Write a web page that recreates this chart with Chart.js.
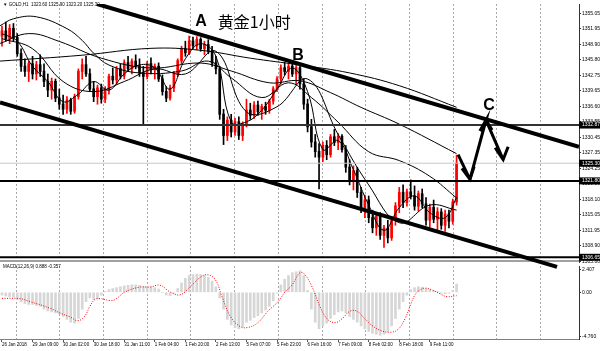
<!DOCTYPE html>
<html>
<head>
<meta charset="utf-8">
<script src="https://cdn.jsdelivr.net/npm/chart.js@4.4.1/dist/chart.umd.min.js"></script>
<style>
  html, body { margin: 0; padding: 0; background: #fff; width: 600px; height: 351px; overflow: hidden; }
  #wrap { position: relative; width: 600px; height: 351px; }
  #main { position: absolute; left: 0; top: 0; z-index: 2; }
  #macd { position: absolute; left: 0; top: 262px; z-index: 1; }
</style>
</head>
<body>
<div id="wrap">
  <canvas id="macd" width="600" height="89"></canvas>
  <canvas id="main" width="600" height="272"></canvas>
</div>
<script>
// GOLD H1, shown as 2-hour candles, index 0 = 26 Jan 2018
const opens = [1350.5,1351.5,1350.0,1352.0,1350.2,1347.0,1344.5,1343.5,1345.0,1343.0,1344.8,1343.5,1341.5,1339.8,1341.5,1338.2,1337.0,1336.0,1337.8,1335.6,
  1338.5,1343.5,1344.8,1343.0,1340.0,1338.5,1340.2,1338.0,1339.8,1342.5,1341.8,1344.0,1342.6,1345.2,1344.0,1345.5,1344.6,1343.2,1342.5,1345.0,
  1343.8,1344.5,1342.0,1339.5,1338.2,1340.2,1343.0,1345.6,1348.0,1347.2,1349.5,1348.6,1349.8,1348.0,1348.8,1347.5,1345.2,1344.0,1335.0,1330.8,
  1333.8,1331.5,1333.5,1330.8,1333.0,1335.8,1334.8,1336.8,1335.5,1336.5,1335.8,1337.6,1340.0,1342.0,1344.2,1343.5,1344.5,1343.0,1344.2,1341.0,
  1337.0,1332.5,1329.5,1327.6,1326.5,1328.8,1327.0,1330.5,1329.4,1330.6,1328.0,1324.5,1322.0,1323.8,1319.5,1316.5,1318.0,1314.5,1312.5,1314.8,
  1311.0,1312.4,1310.5,1314.0,1316.8,1319.5,1317.5,1319.6,1318.8,1316.8,1319.2,1317.2,1314.0,1316.5,1314.2,1315.6,1313.0,1315.2,1313.8,1317.6];
const highs = [1352.5,1353.3,1352.8,1353.0,1351.0,1348.0,1346.0,1345.5,1346.5,1345.5,1346.8,1345.0,1343.0,1342.2,1342.0,1340.0,1338.8,1338.5,1338.2,1339.0,
  1344.0,1346.0,1346.5,1344.0,1341.5,1340.8,1341.0,1340.5,1343.0,1344.2,1344.5,1345.0,1345.8,1346.5,1346.0,1346.8,1346.0,1344.5,1345.5,1346.2,
  1345.0,1345.2,1342.8,1340.5,1340.8,1343.5,1346.0,1348.5,1349.5,1350.5,1350.3,1350.4,1350.2,1349.5,1349.8,1348.5,1346.5,1344.5,1336.0,1334.5,
  1335.0,1334.2,1334.5,1333.5,1338.0,1337.2,1337.5,1337.6,1337.0,1337.4,1338.0,1340.5,1342.5,1344.8,1345.3,1345.0,1345.2,1344.8,1345.0,1342.0,
  1338.0,1334.0,1331.0,1329.2,1329.5,1329.8,1331.0,1332.0,1331.2,1331.0,1328.8,1326.0,1324.8,1324.5,1320.5,1319.0,1318.8,1316.0,1315.5,1315.5,
  1313.0,1314.0,1314.5,1317.5,1320.5,1321.0,1320.2,1322.0,1320.8,1319.8,1320.2,1318.5,1317.2,1318.0,1316.5,1316.3,1316.0,1316.0,1318.2,1326.9];
const lows = [1348.5,1349.5,1349.0,1349.5,1346.5,1343.5,1342.5,1341.5,1342.0,1341.8,1342.5,1340.5,1338.5,1338.0,1337.5,1336.0,1335.0,1335.2,1335.0,1335.2,
  1338.0,1342.0,1342.5,1339.5,1337.5,1337.0,1337.2,1337.3,1339.0,1341.0,1341.0,1342.0,1342.0,1343.5,1343.0,1344.0,1342.5,1332.8,1342.0,1343.0,
  1342.0,1341.5,1338.8,1337.5,1337.8,1339.5,1342.5,1345.0,1346.5,1346.8,1348.0,1347.8,1347.5,1346.8,1347.0,1344.5,1343.0,1334.0,1329.0,1329.8,
  1330.5,1330.8,1330.0,1329.8,1332.5,1334.0,1334.2,1334.8,1334.0,1335.0,1335.2,1337.0,1339.5,1341.0,1342.8,1342.0,1342.5,1341.0,1340.0,1336.0,
  1331.5,1328.5,1326.5,1320.2,1325.6,1326.0,1326.5,1328.8,1328.0,1327.5,1323.5,1321.0,1320.0,1318.5,1315.5,1314.5,1313.5,1311.5,1311.0,1310.2,
  1308.6,1309.5,1310.0,1313.0,1315.5,1316.5,1316.8,1318.2,1316.0,1315.8,1316.5,1313.0,1312.6,1313.5,1312.0,1312.2,1311.8,1312.5,1313.2,1317.0];
const closes = [1351.5,1350.0,1352.0,1350.2,1347.0,1344.5,1343.5,1345.0,1343.0,1344.8,1343.5,1341.5,1339.8,1341.5,1338.2,1337.0,1336.0,1337.8,1335.6,1338.5,
  1343.5,1344.8,1343.0,1340.0,1338.5,1340.2,1338.0,1339.8,1342.5,1341.8,1344.0,1342.6,1345.2,1344.0,1345.5,1344.6,1343.2,1342.5,1345.0,1343.8,
  1344.5,1342.0,1339.5,1338.2,1340.2,1343.0,1345.6,1348.0,1347.2,1349.5,1348.6,1349.8,1348.0,1348.8,1347.5,1345.2,1344.0,1335.0,1330.8,1333.8,
  1331.5,1333.5,1330.8,1333.0,1335.8,1334.8,1336.8,1335.5,1336.5,1335.8,1337.6,1340.0,1342.0,1344.2,1343.5,1344.5,1343.0,1344.2,1341.0,1337.0,
  1332.5,1329.5,1327.6,1326.5,1328.8,1327.0,1330.5,1329.4,1330.6,1328.0,1324.5,1322.0,1323.8,1319.5,1316.5,1318.0,1314.5,1312.5,1314.8,1311.0,
  1312.4,1310.5,1314.0,1316.8,1319.5,1317.5,1319.6,1318.8,1316.8,1319.2,1317.2,1314.0,1316.5,1314.2,1315.6,1313.0,1315.2,1313.8,1317.6,1325.3];

// moving averages: [bar index, price]
const maFast = [[0,1351],[4,1349.5],[8,1344.5],[12,1341.5],[16,1337.5],[20,1339],[24,1341.5],[28,1339.8],[32,1343],[36,1344.8],[40,1344.2],
  [44,1340],[48,1346],[52,1349],[56,1346.5],[60,1333.5],[64,1333.5],[68,1335.8],[72,1340],[76,1344.2],[80,1339.5],[84,1328],[88,1329.8],
  [92,1324],[96,1317],[100,1312],[104,1316.5],[108,1318.8],[112,1315.5],[116,1314.5],[119,1318.5]];
const maMid = [[0,1350],[8,1348],[16,1341.5],[24,1339.5],[32,1341.5],[40,1344],[48,1343],[56,1347.5],[64,1335.5],[72,1336.5],[80,1342],
  [88,1331],[96,1321],[104,1313.5],[112,1317],[119,1316]];
const ma60 = [[-0.5,1352.57],[3,1353.94],[9,1354.33],[17,1351.99],[21,1349.65],[24,1347.11],[28,1344.77],[36,1343.2],[47,1343.59],[54,1345.55],
  [60,1342.23],[68,1338.32],[75,1341.25],[81,1338.32],[88,1333.44],[96,1327.58],[104,1325.83],[112,1322.71],[119,1318.41]];
const ma120 = [[-0.5,1349.06],[7,1351.0],[15,1349.45],[26,1346.13],[39,1344.18],[52,1345.16],[60,1343.59],[70,1341.25],[78,1341.64],
  [86,1339.3],[94,1336.37],[104,1333.05],[119,1327.2]];
const ma200 = [[-0.5,1345.55],[21,1346.72],[39,1348.08],[52,1347.69],[65,1346.13],[78,1344.77],[91,1343.2],[104,1340.67],[119,1336.4]];

// drawn objects: [bar index, price]
const upperChannel = [[24.9,1356.87],[151.05,1328.56]];
const lowerChannel = [[-0.52,1337.35],[145.3,1304.74]];
const levelLines = [1332.87, 1321.80, 1306.65];
const bidLine = 1325.30;
const arrowDown1 = [[119.4,1327.0],[122.5,1322.12],[120.4,1324.27],[122.5,1322.12],[123.6,1324.66]];
const arrowUp = [[122.5,1322.12],[126.7,1333.83],[125.1,1331.68],[126.7,1333.83],[128.3,1331.88]];
const arrowDown2 = [[126.7,1333.83],[131.2,1326.02],[129.1,1328.37],[131.2,1326.02],[132.5,1328.56]];
const notes = [
  {text: 'A', x: 52.1, y: 1353.3},
  {text: 'B', x: 77.5, y: 1346.7},
  {text: 'C', x: 127.5, y: 1336.8}
];
const titleNote = {text: '黄金1小时', x: 56.5, y: 1353.3};
const headerText = '\u25BC GOLD,H1  1323.60 1325.90 1323.20 1325.30';

// MACD(12,26,9)
const macdHist = [-0.3,-0.4,-0.45,-0.5,-0.8,-1.0,-1.2,-1.3,-1.3,-1.4,-1.5,-1.8,-2.0,-2.1,-2.2,-2.3,-2.6,-2.9,-3.2,-3.3,
  -2.8,-1.8,-1.0,-0.6,-0.8,-0.7,-0.3,0.1,0.3,0.4,0.5,0.6,0.7,0.75,0.8,0.8,0.75,0.6,0.65,0.6,
  0.5,0.35,0.0,-0.3,-0.35,-0.1,0.4,1.0,1.5,1.8,1.9,1.95,1.9,1.8,1.6,1.2,0.6,-0.6,-1.8,-2.9,
  -3.5,-3.8,-3.9,-3.7,-3.2,-3.0,-2.7,-2.5,-2.2,-1.9,-1.5,-0.9,-0.1,0.8,1.4,1.8,2.1,2.2,2.3,1.8,
  0.2,-1.8,-3.2,-3.9,-3.6,-3.3,-2.8,-2.4,-2.1,-2.0,-2.2,-2.6,-2.9,-3.2,-3.6,-3.9,-4.2,-4.4,-4.5,-4.6,
  -4.5,-4.2,-3.6,-2.8,-1.8,-1.0,-0.3,0.3,0.5,0.6,0.55,0.4,0.3,0.2,0.1,-0.1,-0.15,-0.1,0.2,0.89];
const macdSignal = [[0,-0.65],[4.7,-0.68],[7.3,-0.99],[12.6,-1.71],[15.2,-2.22],[17.8,-2.63],[19.9,-3.04],[21.7,-2.53],[23,-1.5],
  [24.3,-0.78],[25.7,-0.68],[28.3,-0.88],[29.6,-0.78],[32.2,0.04],[36.1,0.56],[38.7,0.56],[41.4,0.76],[44,0.04],[46.6,-0.27],
  [49.2,0.56],[51.8,1.58],[53.7,1.89],[55.8,1.38],[57.6,-0.47],[59.7,-2.53],[62.3,-3.66],[64.4,-3.76],[67,-3.25],[69.6,-2.02],
  [72.3,-0.99],[74.1,0.04],[75.9,0.76],[78,2.1],[79.3,1.89],[81.2,0.56],[83.2,-1.5],[85.1,-2.84],[87.2,-3.25],[89,-2.84],
  [91.1,-2.02],[92.9,-2.02],[95,-2.84],[96.9,-3.56],[99,-4.07],[101.6,-4.28],[103.7,-3.97],[105.5,-2.84],[106.8,-1.5],
  [108.1,-0.27],[109.4,0.25],[110.7,0.45],[112.6,0.25],[114.7,-0.16],[116.5,-0.47],[119,-0.36]];
const macdText = 'MACD(12,26,9) 0.888 -0.357';

// axes
const xLabelIdx = [0,8,16,24,32,40,48,56,64,72,80,88,96,104,112];
const xLabels = ['26 Jan 2018','29 Jan 09:00','30 Jan 02:00','30 Jan 18:00','31 Jan 11:00','1 Feb 04:00','1 Feb 20:00',
  '2 Feb 13:00','5 Feb 07:00','5 Feb 23:00','6 Feb 16:00','7 Feb 09:00','8 Feb 02:00','8 Feb 18:00','9 Feb 11:00'];
const gridIdx = [3.7,15.1,26.5,38.0,49.4,60.9,72.3,83.8,95.2,106.6,118.1,129.5,141.0];
const priceTicks = [1355.05,1351.95,1348.90,1345.80,1342.75,1339.65,1336.60,1333.55,1330.45,1327.35,1324.25,1321.20,1318.10,1315.05,1311.95,1308.90,1305.80];
const markedPrices = [1332.87, 1325.30, 1321.80, 1306.65];
const macdTicks = [2.407, 0, -4.760];
const macdTickLabels = ['2.407', '0.00', '-4.760'];

const X_MIN = -0.52, X_MAX = 151.05;
const AXIS_W = 21;
const tickFont = {family: 'Liberation Sans', size: 5};

const pts = (list) => list.map(p => ({x: p[0], y: p[1]}));
const flat = (v) => [{x: X_MIN, y: v}, {x: X_MAX, y: v}];
const candleColor = (ctx) => closes[ctx.dataIndex] >= opens[ctx.dataIndex] ? '#ff0000' : '#000000';

function line(data, width, color, extra) {
  return Object.assign({type: 'line', data: data, borderColor: color, borderWidth: width,
    pointRadius: 0, fill: false, tension: 0}, extra || {});
}

const mainDatasets = [
  {type: 'bar', data: highs.map((h, i) => ({x: i, y: [lows[i], h]})), backgroundColor: candleColor,
    barThickness: 1, grouped: false, borderWidth: 0, order: 20},
  {type: 'bar', data: opens.map((o, i) => ({x: i, y: [Math.min(o, closes[i]), Math.max(o, closes[i]) + 0.05]})),
    backgroundColor: candleColor, barThickness: 2, grouped: false, borderWidth: 0, order: 19},
  line(pts(maFast), 1, '#000', {tension: 0.4, order: 15}),
  line(pts(maMid), 1, '#000', {tension: 0.4, order: 15}),
  line(pts(ma60), 1, '#000', {tension: 0.4, order: 15}),
  line(pts(ma120), 1, '#000', {tension: 0.4, order: 15}),
  line(pts(ma200), 1, '#000', {tension: 0.4, order: 15}),
  line(flat(bidLine), 1, '#c8c8c8', {order: 12}),
  line(flat(levelLines[0]), 2, '#333', {order: 10}),
  line(flat(levelLines[1]), 2, '#000', {order: 10}),
  line(flat(levelLines[2]), 2, '#000', {order: 10}),
  line(pts(upperChannel), 4, '#000', {order: 5}),
  line(pts(lowerChannel), 4, '#000', {order: 5, clip: false}),
  line(pts(arrowDown1), 3, '#000', {order: 1}),
  line(pts(arrowUp), 3, '#000', {order: 1}),
  line(pts(arrowDown2), 3, '#000', {order: 1})
];

const decorMain = {
  id: 'decorMain',
  beforeDatasetsDraw(chart) {
    const {ctx, chartArea} = chart;
    ctx.save();
    ctx.strokeStyle = '#a0a0a0';
    ctx.lineWidth = 2;
    ctx.beginPath();
    ctx.moveTo(chartArea.left, chartArea.bottom - 1);
    ctx.lineTo(chartArea.right, chartArea.bottom - 1);
    ctx.stroke();
    ctx.fillStyle = '#000';
    ctx.font = '4.5px "Liberation Sans"';
    ctx.textBaseline = 'middle';
    ctx.fillText(headerText, 3, 5);
    ctx.restore();
  },
  afterDatasetsDraw(chart) {
    const {ctx, scales: {x, y}} = chart;
    ctx.save();
    ctx.fillStyle = '#000';
    ctx.textBaseline = 'middle';
    ctx.textAlign = 'center';
    ctx.font = 'bold 16px "Liberation Sans"';
    notes.forEach(n => ctx.fillText(n.text, x.getPixelForValue(n.x), y.getPixelForValue(n.y)));
    ctx.textAlign = 'left';
    ctx.font = '16px "Noto Sans CJK SC"';
    ctx.fillText(titleNote.text, x.getPixelForValue(titleNote.x), y.getPixelForValue(titleNote.y));
    ctx.restore();
  },
  afterDraw(chart) {
    const {ctx, scales: {y}, chartArea} = chart;
    ctx.save();
    ctx.font = '5px "Liberation Sans"';
    ctx.textBaseline = 'middle';
    ctx.textAlign = 'left';
    markedPrices.forEach(v => {
      const py = y.getPixelForValue(v);
      ctx.fillStyle = '#000';
      ctx.fillRect(chartArea.right, py - 3.5, AXIS_W, 7);
      ctx.fillStyle = '#fff';
      ctx.fillText(v.toFixed(2), chartArea.right + 3, py);
    });
    ctx.restore();
  }
};

new Chart(document.getElementById('main').getContext('2d'), {
  type: 'bar',
  data: {datasets: mainDatasets},
  options: {
    responsive: false,
    animation: false,
    events: [],
    layout: {autoPadding: false, padding: {left: 0, right: 0, top: 0, bottom: 10}},
    plugins: {legend: {display: false}, tooltip: {enabled: false}},
    scales: {
      x: {
        type: 'linear', min: X_MIN, max: X_MAX, offset: false,
        afterBuildTicks: (s) => { s.ticks = gridIdx.map(v => ({value: v})); },
        afterFit: (s) => { s.height = 0; },
        ticks: {display: false},
        grid: {offset: false, drawTicks: false, color: '#a8a8a8', lineWidth: 1},
        border: {display: false, dash: [2, 2]}
      },
      y: {
        position: 'right', min: 1305.72, max: 1356.87,
        afterBuildTicks: (s) => { s.ticks = priceTicks.map(v => ({value: v})); },
        afterFit: (s) => { s.width = AXIS_W; },
        ticks: {autoSkip: false, padding: 1, color: '#000', font: tickFont,
          callback: (v, i) => priceTicks[i].toFixed(2)},
        grid: {drawOnChartArea: false, tickLength: 2, color: '#333'},
        border: {display: true, color: '#333', width: 1}
      }
    }
  },
  plugins: [decorMain]
});

const decorMacd = {
  id: 'decorMacd',
  afterDatasetsDraw(chart) {
    const {ctx} = chart;
    ctx.save();
    ctx.fillStyle = '#000';
    ctx.font = '4.5px "Liberation Sans"';
    ctx.textBaseline = 'middle';
    ctx.fillText(macdText, 3, 5);
    ctx.restore();
  }
};

new Chart(document.getElementById('macd').getContext('2d'), {
  type: 'bar',
  data: {
    datasets: [
      {type: 'bar', data: macdHist.map((v, i) => ({x: i, y: v})), backgroundColor: '#d6d6d6',
        barThickness: 2, grouped: false, borderWidth: 0, order: 5},
      line(pts(macdSignal), 1, '#ff0000', {tension: 0.4, borderDash: [1, 1.5], order: 1})
    ]
  },
  options: {
    responsive: false,
    animation: false,
    events: [],
    layout: {autoPadding: false, padding: {left: 0, right: 0, top: 1, bottom: 0}},
    plugins: {legend: {display: false}, tooltip: {enabled: false}},
    scales: {
      x: {
        type: 'linear', min: X_MIN, max: X_MAX, offset: false,
        afterBuildTicks: (s) => { s.ticks = xLabelIdx.map(v => ({value: v})); },
        afterFit: (s) => { s.height = 12; },
        ticks: {autoSkip: false, maxRotation: 0, align: 'start', padding: 0, color: '#000',
          font: {family: 'Liberation Sans', size: 4.5},
          callback: (v, i) => xLabels[i]},
        grid: {offset: false, drawOnChartArea: false, tickLength: 3, color: '#555'},
        border: {display: true, color: '#808080', width: 1}
      },
      x2: {
        type: 'linear', position: 'top', min: X_MIN, max: X_MAX, offset: false,
        afterBuildTicks: (s) => { s.ticks = gridIdx.map(v => ({value: v})); },
        afterFit: (s) => { s.height = 0; },
        ticks: {display: false},
        grid: {offset: false, drawTicks: false, color: '#a8a8a8', lineWidth: 1},
        border: {display: false, dash: [2, 2]}
      },
      y: {
        position: 'right', min: -5.0, max: 2.82,
        afterBuildTicks: (s) => { s.ticks = macdTicks.map(v => ({value: v})); },
        afterFit: (s) => { s.width = AXIS_W; },
        ticks: {autoSkip: false, padding: 1, color: '#000', font: tickFont,
          callback: (v, i) => macdTickLabels[i]},
        grid: {drawOnChartArea: false, tickLength: 2, color: '#333'},
        border: {display: true, color: '#333', width: 1}
      }
    }
  },
  plugins: [decorMacd]
});
</script>
</body>
</html>
